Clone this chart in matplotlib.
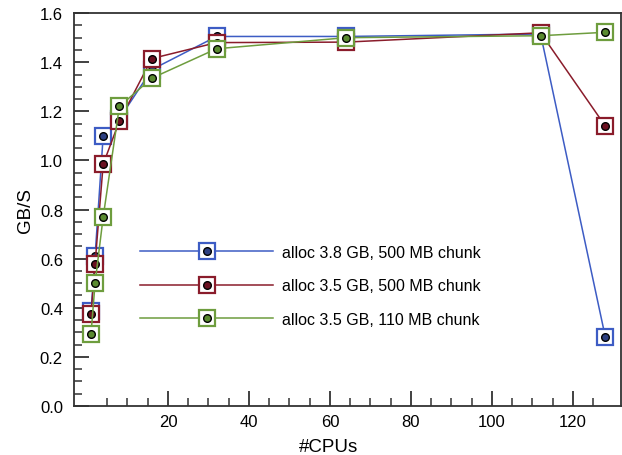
import matplotlib
matplotlib.use("Agg")
import matplotlib.pyplot as plt
from matplotlib.lines import Line2D
from matplotlib.legend_handler import HandlerTuple
from matplotlib.ticker import FixedLocator

plt.rcParams['font.family'] = ['Liberation Sans', 'DejaVu Sans']

cpus = [1, 2, 4, 8, 16, 32, 64, 112, 128]
alloc38_500 = [0.385, 0.61, 1.10, 1.17, 1.37, 1.505, 1.505, 1.515, 0.28]
alloc35_500 = [0.375, 0.58, 0.985, 1.16, 1.415, 1.48, 1.482, 1.52, 1.14]
alloc35_110 = [0.295, 0.50, 0.77, 1.22, 1.335, 1.455, 1.50, 1.508, 1.522]

labels = ["alloc 3.8 GB, 500 MB chunk",
          "alloc 3.5 GB, 500 MB chunk",
          "alloc 3.5 GB, 110 MB chunk"]
series = [alloc38_500, alloc35_500, alloc35_110]
colors = ["#3d5cc4", "#8a1c2b", "#6e9d3e"]
dotcolors = ["#2c3f80", "#6a1020", "#5a8a30"]

fig = plt.figure(figsize=(6.22, 4.56), dpi=100)
ax = fig.add_axes([0.119, 0.1075, 0.879, 0.8615])

handles = []
for i, (ys, c, dc, lab) in enumerate(zip(series, colors, dotcolors, labels)):
    ax.plot(cpus, ys, color=c, lw=1.1, marker='s', ms=12, mfc='white',
            mec=c, mew=1.6, zorder=2 + 2 * i)
    ax.plot(cpus, ys, linestyle='none', marker='o', ms=5.5, mfc=dc,
            mec='black', mew=1.0, zorder=3 + 2 * i)
    h1 = Line2D([], [], color=c, lw=1.1, marker='s', ms=12, mfc='white', mec=c, mew=1.6)
    h2 = Line2D([], [], linestyle='none', marker='o', ms=5.5, mfc=dc, mec='black', mew=1.0)
    handles.append((h1, h2))

ax.set_xlim(-3.2, 131.8)
ax.set_ylim(0, 1.6)
ax.xaxis.set_major_locator(FixedLocator([20, 40, 60, 80, 100, 120]))
ax.xaxis.set_minor_locator(FixedLocator([5, 10, 15, 25, 30, 35, 45, 50, 55, 65, 70, 75,
                                         85, 90, 95, 105, 110, 115, 125]))
yt = [0.0, 0.2, 0.4, 0.6, 0.8, 1.0, 1.2, 1.4, 1.6]
ax.set_yticks(yt)
ax.set_yticklabels([f"{v:.1f}" for v in yt])
ax.yaxis.set_minor_locator(FixedLocator([i * 0.05 for i in range(1, 32) if i % 4 != 0]))

ax.tick_params(axis='both', which='major', direction='in', length=11, width=1.3,
               color='#333333', labelsize=12)
ax.tick_params(axis='y', which='major', pad=8)
ax.tick_params(axis='x', which='major', pad=6)
ax.tick_params(axis='both', which='minor', direction='in', length=6, width=1.1,
               color='#333333')
for s in ax.spines.values():
    s.set_color('#333333')
    s.set_linewidth(1.3)

ax.set_xlabel("#CPUs", fontsize=13.5, labelpad=5)
ax.xaxis.set_label_coords(0.465, -0.082)
ax.set_ylabel("GB/S", fontsize=13.5, labelpad=4)

leg = ax.legend(handles, labels, handler_map={tuple: HandlerTuple(ndivide=1)},
                frameon=False, fontsize=11.5, handlelength=8.3, handletextpad=0.6,
                labelspacing=1.15, loc='lower left', bbox_to_anchor=(0.095, 0.165))

fig.savefig("out.png", dpi=100)
